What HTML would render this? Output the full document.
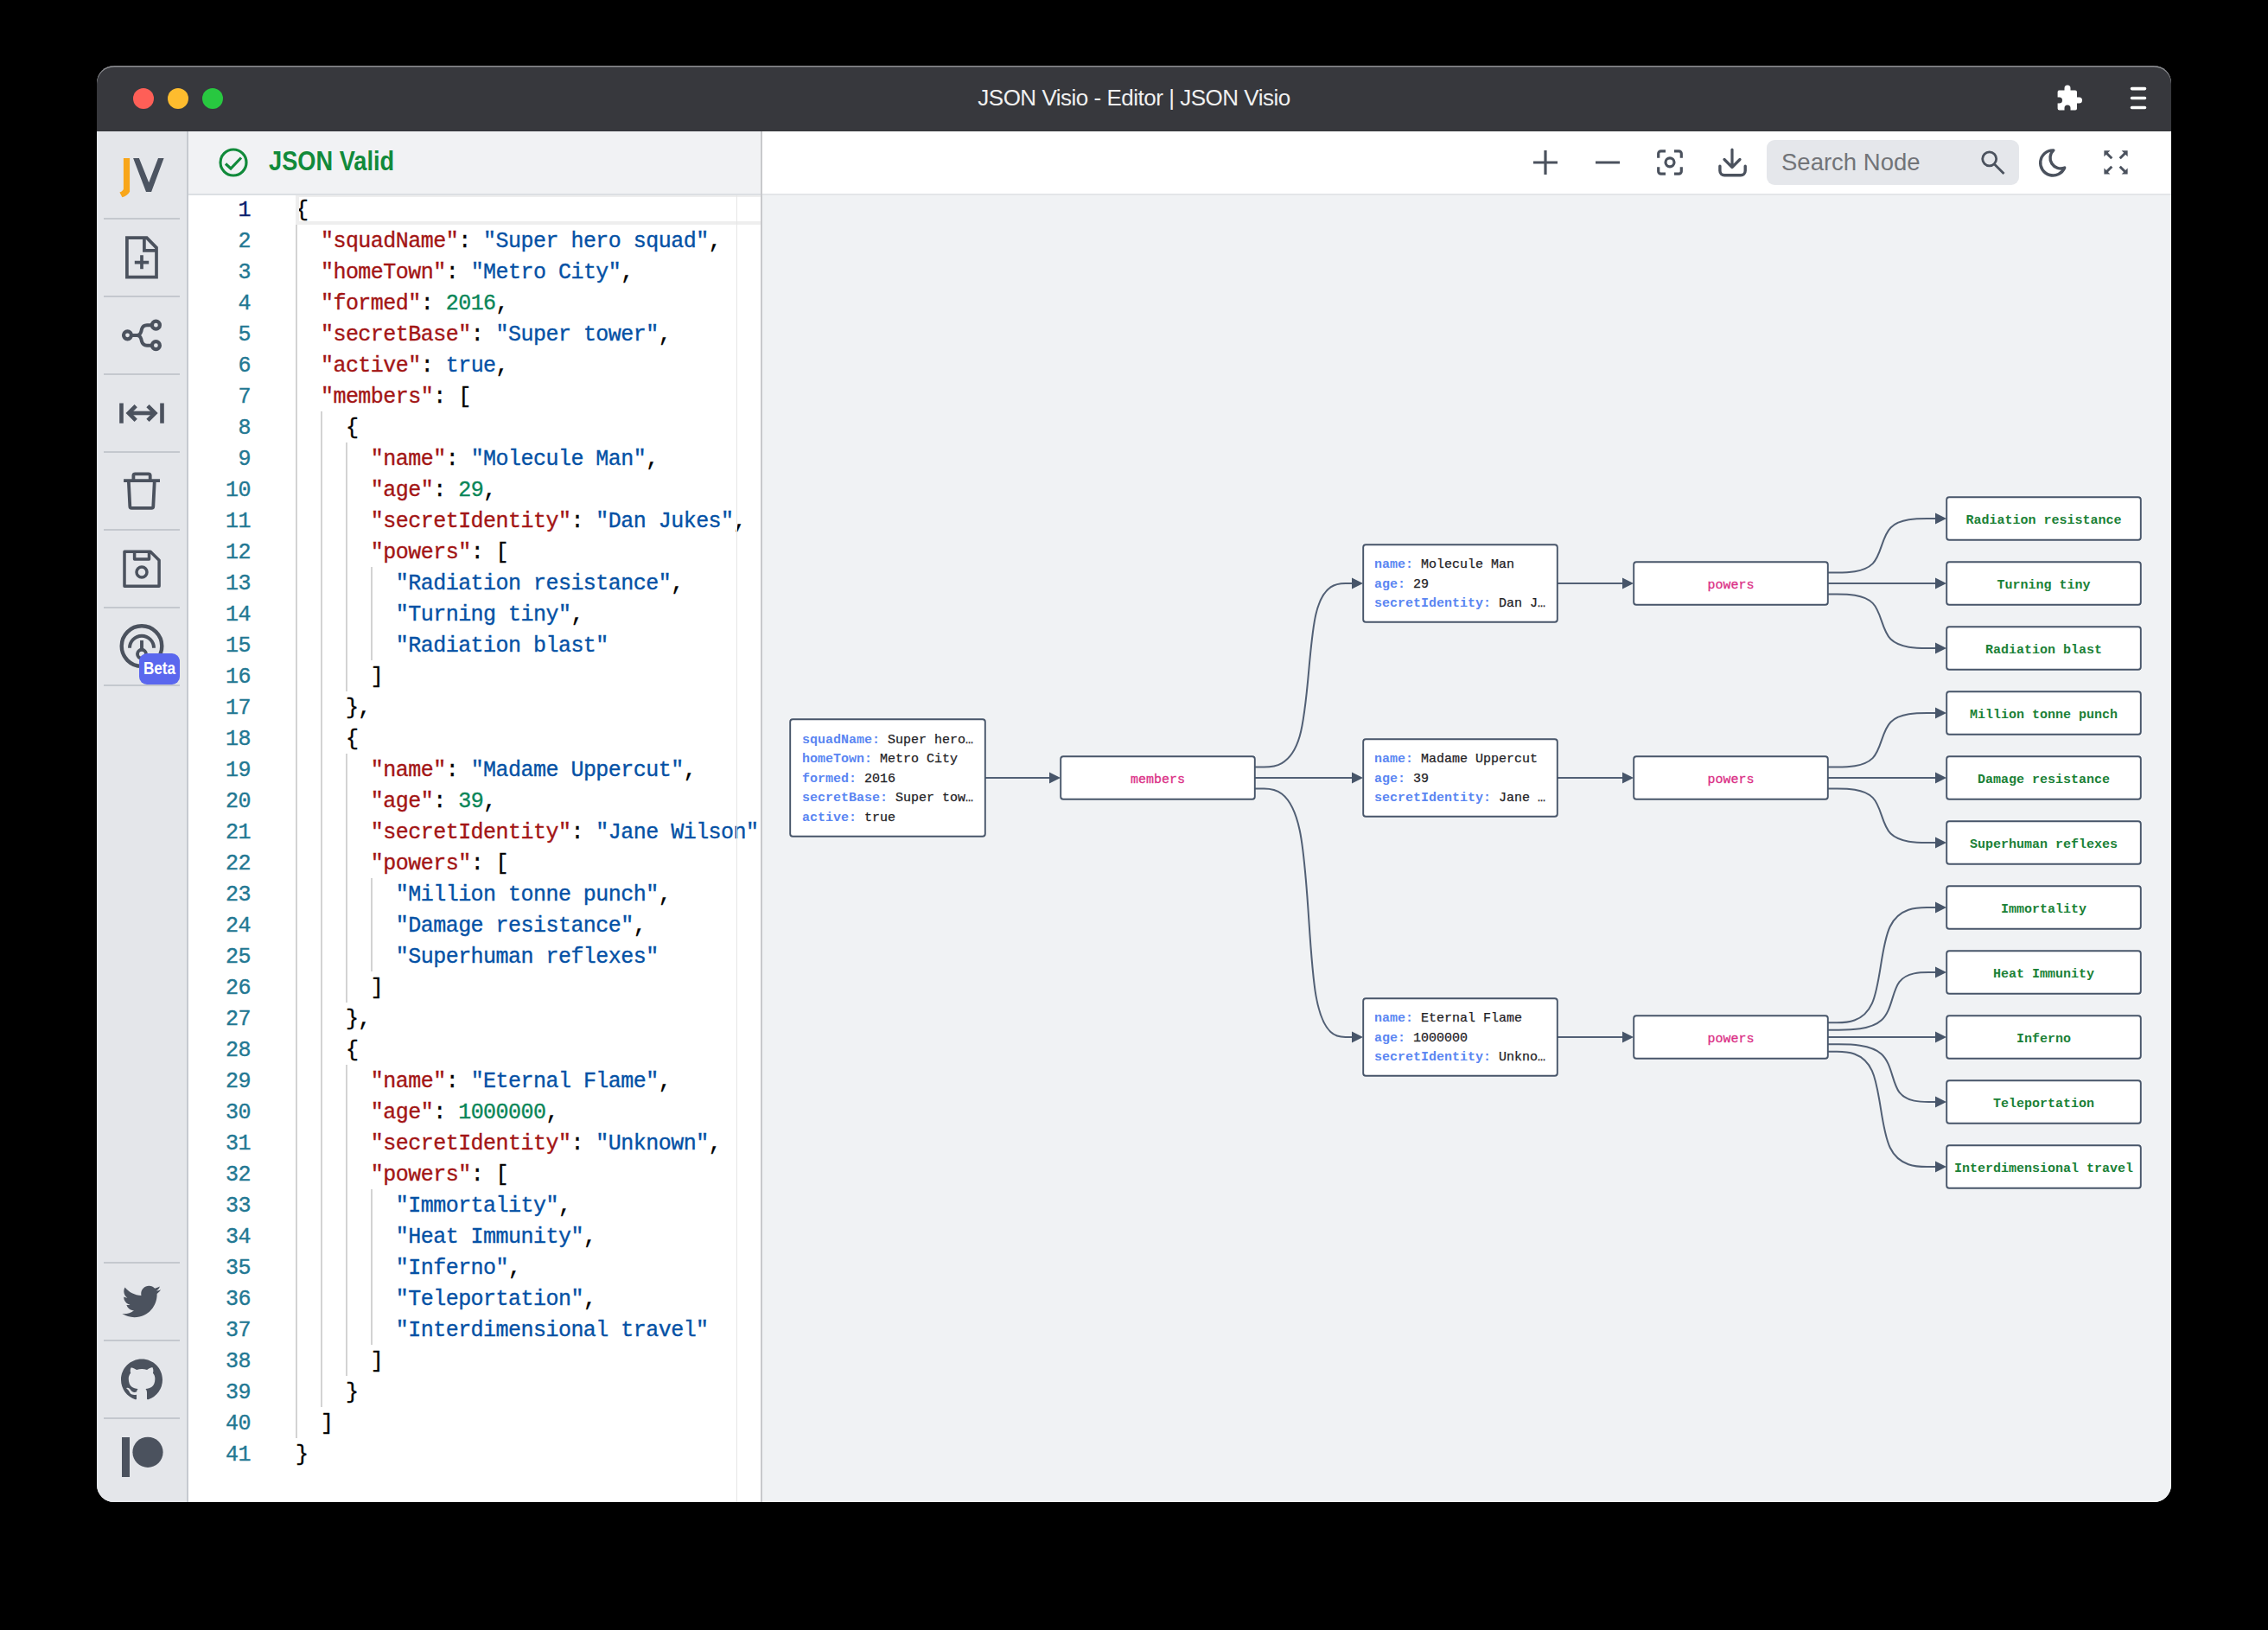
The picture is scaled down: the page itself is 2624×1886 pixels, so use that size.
<!DOCTYPE html>
<html><head><meta charset="utf-8">
<style>
html,body{margin:0;padding:0;background:#000;width:2624px;height:1886px;overflow:hidden;}
body{position:relative;font-family:"Liberation Sans",sans-serif;}
#win{position:absolute;left:112px;top:76px;width:2400px;height:1662px;border-radius:20px;overflow:hidden;background:#e4e6ea;}
#pg{position:absolute;left:-112px;top:-76px;width:2624px;height:1886px;}
.a{position:absolute;}
#title{left:112px;top:76px;width:2400px;height:76px;background:#37383d;}
#titleborder{left:112px;top:76px;width:2400px;height:2px;background:#5d5e62;}
.tl{position:absolute;width:24px;height:24px;border-radius:50%;top:102px;}
#ttext{left:112px;width:2400px;top:96px;text-align:center;color:#f0f0f0;font-size:26px;letter-spacing:-0.49px;line-height:34px;}
#side{left:112px;top:152px;width:104px;height:1586px;background:#e4e6ea;}
#sideb{left:216px;top:152px;width:2px;height:1586px;background:#c6cad0;}
.sep{position:absolute;left:120px;width:88px;height:2px;background:#c5c9cf;}
#hdr{left:218px;top:152px;width:662px;height:72px;background:#f1f2f4;}
#hdrb{left:218px;top:224px;width:662px;height:2px;background:#dcdfe3;}
#ed{left:218px;top:226px;width:662px;height:1512px;background:#fff;}
#divv{left:880px;top:152px;width:2px;height:1586px;background:#c8c9cc;}
#tb{left:882px;top:152px;width:1630px;height:72px;background:#fff;}
#tbb{left:882px;top:224px;width:1630px;height:2px;background:#e3e5e8;}
#canvas{left:882px;top:226px;width:1630px;height:1512px;background:#f0f2f4;}
.ln{position:absolute;left:218px;width:72px;text-align:right;font-family:"Liberation Mono",monospace;font-size:25px;letter-spacing:-0.53px;-webkit-text-stroke:0.35px currentColor;line-height:36px;color:#237893;}
.cl{position:absolute;left:342px;white-space:pre;font-family:"Liberation Mono",monospace;font-size:25px;letter-spacing:-0.53px;-webkit-text-stroke:0.35px currentColor;line-height:36px;color:#000;}
.k{color:#a31515}.s{color:#0451a5}.n{color:#098658}.b{color:#0451a5}
.ig{position:absolute;width:2px;background:#d3d3d3;}
.nt{position:absolute;white-space:pre;font-family:"Liberation Mono",monospace;font-size:15px;line-height:17px;color:#1f2226;-webkit-text-stroke:0.25px currentColor;}
.kb{font-weight:bold}
.nc{position:absolute;width:225px;text-align:center;white-space:pre;font-family:"Liberation Mono",monospace;font-size:15px;line-height:17px;-webkit-text-stroke:0.3px currentColor;}
.kb{-webkit-text-stroke:0}
.lf{-webkit-text-stroke:0}
.lf{font-weight:bold}
</style></head><body>
<div id="win"><div id="pg">
<div class="a" id="title"></div>

<div class="tl" style="left:154px;background:#fe5f57"></div>
<div class="tl" style="left:194px;background:#febc2e"></div>
<div class="tl" style="left:234px;background:#28c840"></div>
<div class="a" id="ttext">JSON Visio - Editor | JSON Visio</div>

<div class="a" id="side"></div>
<div class="a" id="sideb"></div>

<div class="a" id="hdr"></div>
<div class="a" id="hdrb"></div>
<div class="a" id="ed"></div>
<div class="a" id="divv"></div>
<div class="a" id="tb"></div>
<div class="a" id="tbb"></div>
<div class="a" id="canvas"></div>

<!--EDITOR-->
<div class="a" style="left:0;top:0;width:2624px;height:1886px;clip-path:inset(224px 1744px 148px 218px)">
<div class="ln" style="top:226px;color:#0b216f">1</div>
<div class="cl" style="top:226px">{</div>
<div class="ln" style="top:262px;color:#237893">2</div>
<div class="cl" style="top:262px">  <span class="k">&quot;squadName&quot;</span>: <span class="s">&quot;Super hero squad&quot;</span>,</div>
<div class="ln" style="top:298px;color:#237893">3</div>
<div class="cl" style="top:298px">  <span class="k">&quot;homeTown&quot;</span>: <span class="s">&quot;Metro City&quot;</span>,</div>
<div class="ln" style="top:334px;color:#237893">4</div>
<div class="cl" style="top:334px">  <span class="k">&quot;formed&quot;</span>: <span class="n">2016</span>,</div>
<div class="ln" style="top:370px;color:#237893">5</div>
<div class="cl" style="top:370px">  <span class="k">&quot;secretBase&quot;</span>: <span class="s">&quot;Super tower&quot;</span>,</div>
<div class="ln" style="top:406px;color:#237893">6</div>
<div class="cl" style="top:406px">  <span class="k">&quot;active&quot;</span>: <span class="b">true</span>,</div>
<div class="ln" style="top:442px;color:#237893">7</div>
<div class="cl" style="top:442px">  <span class="k">&quot;members&quot;</span>: [</div>
<div class="ln" style="top:478px;color:#237893">8</div>
<div class="cl" style="top:478px">    {</div>
<div class="ln" style="top:514px;color:#237893">9</div>
<div class="cl" style="top:514px">      <span class="k">&quot;name&quot;</span>: <span class="s">&quot;Molecule Man&quot;</span>,</div>
<div class="ln" style="top:550px;color:#237893">10</div>
<div class="cl" style="top:550px">      <span class="k">&quot;age&quot;</span>: <span class="n">29</span>,</div>
<div class="ln" style="top:586px;color:#237893">11</div>
<div class="cl" style="top:586px">      <span class="k">&quot;secretIdentity&quot;</span>: <span class="s">&quot;Dan Jukes&quot;</span>,</div>
<div class="ln" style="top:622px;color:#237893">12</div>
<div class="cl" style="top:622px">      <span class="k">&quot;powers&quot;</span>: [</div>
<div class="ln" style="top:658px;color:#237893">13</div>
<div class="cl" style="top:658px">        <span class="s">&quot;Radiation resistance&quot;</span>,</div>
<div class="ln" style="top:694px;color:#237893">14</div>
<div class="cl" style="top:694px">        <span class="s">&quot;Turning tiny&quot;</span>,</div>
<div class="ln" style="top:730px;color:#237893">15</div>
<div class="cl" style="top:730px">        <span class="s">&quot;Radiation blast&quot;</span></div>
<div class="ln" style="top:766px;color:#237893">16</div>
<div class="cl" style="top:766px">      ]</div>
<div class="ln" style="top:802px;color:#237893">17</div>
<div class="cl" style="top:802px">    },</div>
<div class="ln" style="top:838px;color:#237893">18</div>
<div class="cl" style="top:838px">    {</div>
<div class="ln" style="top:874px;color:#237893">19</div>
<div class="cl" style="top:874px">      <span class="k">&quot;name&quot;</span>: <span class="s">&quot;Madame Uppercut&quot;</span>,</div>
<div class="ln" style="top:910px;color:#237893">20</div>
<div class="cl" style="top:910px">      <span class="k">&quot;age&quot;</span>: <span class="n">39</span>,</div>
<div class="ln" style="top:946px;color:#237893">21</div>
<div class="cl" style="top:946px">      <span class="k">&quot;secretIdentity&quot;</span>: <span class="s">&quot;Jane Wilson&quot;</span>,</div>
<div class="ln" style="top:982px;color:#237893">22</div>
<div class="cl" style="top:982px">      <span class="k">&quot;powers&quot;</span>: [</div>
<div class="ln" style="top:1018px;color:#237893">23</div>
<div class="cl" style="top:1018px">        <span class="s">&quot;Million tonne punch&quot;</span>,</div>
<div class="ln" style="top:1054px;color:#237893">24</div>
<div class="cl" style="top:1054px">        <span class="s">&quot;Damage resistance&quot;</span>,</div>
<div class="ln" style="top:1090px;color:#237893">25</div>
<div class="cl" style="top:1090px">        <span class="s">&quot;Superhuman reflexes&quot;</span></div>
<div class="ln" style="top:1126px;color:#237893">26</div>
<div class="cl" style="top:1126px">      ]</div>
<div class="ln" style="top:1162px;color:#237893">27</div>
<div class="cl" style="top:1162px">    },</div>
<div class="ln" style="top:1198px;color:#237893">28</div>
<div class="cl" style="top:1198px">    {</div>
<div class="ln" style="top:1234px;color:#237893">29</div>
<div class="cl" style="top:1234px">      <span class="k">&quot;name&quot;</span>: <span class="s">&quot;Eternal Flame&quot;</span>,</div>
<div class="ln" style="top:1270px;color:#237893">30</div>
<div class="cl" style="top:1270px">      <span class="k">&quot;age&quot;</span>: <span class="n">1000000</span>,</div>
<div class="ln" style="top:1306px;color:#237893">31</div>
<div class="cl" style="top:1306px">      <span class="k">&quot;secretIdentity&quot;</span>: <span class="s">&quot;Unknown&quot;</span>,</div>
<div class="ln" style="top:1342px;color:#237893">32</div>
<div class="cl" style="top:1342px">      <span class="k">&quot;powers&quot;</span>: [</div>
<div class="ln" style="top:1378px;color:#237893">33</div>
<div class="cl" style="top:1378px">        <span class="s">&quot;Immortality&quot;</span>,</div>
<div class="ln" style="top:1414px;color:#237893">34</div>
<div class="cl" style="top:1414px">        <span class="s">&quot;Heat Immunity&quot;</span>,</div>
<div class="ln" style="top:1450px;color:#237893">35</div>
<div class="cl" style="top:1450px">        <span class="s">&quot;Inferno&quot;</span>,</div>
<div class="ln" style="top:1486px;color:#237893">36</div>
<div class="cl" style="top:1486px">        <span class="s">&quot;Teleportation&quot;</span>,</div>
<div class="ln" style="top:1522px;color:#237893">37</div>
<div class="cl" style="top:1522px">        <span class="s">&quot;Interdimensional travel&quot;</span></div>
<div class="ln" style="top:1558px;color:#237893">38</div>
<div class="cl" style="top:1558px">      ]</div>
<div class="ln" style="top:1594px;color:#237893">39</div>
<div class="cl" style="top:1594px">    }</div>
<div class="ln" style="top:1630px;color:#237893">40</div>
<div class="cl" style="top:1630px">  ]</div>
<div class="ln" style="top:1666px;color:#237893">41</div>
<div class="cl" style="top:1666px">}</div>
<div class="ig" style="left:342.0px;top:260px;height:1404px"></div>
<div class="ig" style="left:370.9px;top:476px;height:1152px"></div>
<div class="ig" style="left:399.8px;top:512px;height:288px"></div>
<div class="ig" style="left:399.8px;top:872px;height:288px"></div>
<div class="ig" style="left:399.8px;top:1232px;height:360px"></div>
<div class="ig" style="left:428.8px;top:656px;height:108px"></div>
<div class="ig" style="left:428.8px;top:1016px;height:108px"></div>
<div class="ig" style="left:428.8px;top:1376px;height:180px"></div>
<div class="a" style="left:342px;top:226px;width:538px;height:28px;border:4px solid #eeeeee;border-top-width:2px;border-right:none;"></div>
<div class="a" style="left:852px;top:226px;width:1px;height:1512px;background:#e6e6e6"></div>
</div>
<!--/EDITOR-->
<!--GRAPH-->
<svg class="a" style="left:0;top:0" width="2624" height="1886" viewBox="0 0 2624 1886">
<defs><marker id="ar" viewBox="0 0 10 10" refX="10" refY="5" markerWidth="13" markerHeight="13" markerUnits="userSpaceOnUse" orient="auto"><path d="M0,0L10,5L0,10z" fill="#475569"/></marker></defs>
<path d="M1140,900L1215,900" fill="none" stroke="#526075" stroke-width="2"/>
<path d="M1214,893.5L1227,900L1214,906.5z" fill="#475569"/>
<path d="M1452.00,887.50L1462.33,887.50C1472.67,887.50 1493.33,887.50 1503.67,852.08C1514.00,816.67 1514.00,745.83 1522.50,710.42C1531.00,675.00 1548.00,675.00 1556.50,675.00L1565.00,675.00" fill="none" stroke="#526075" stroke-width="2"/>
<path d="M1564,668.5L1577,675L1564,681.5z" fill="#475569"/>
<path d="M1452,900L1565,900" fill="none" stroke="#526075" stroke-width="2"/>
<path d="M1564,893.5L1577,900L1564,906.5z" fill="#475569"/>
<path d="M1452.00,912.50L1462.33,912.50C1472.67,912.50 1493.33,912.50 1503.67,960.42C1514.00,1008.33 1514.00,1104.17 1522.50,1152.08C1531.00,1200.00 1548.00,1200.00 1556.50,1200.00L1565.00,1200.00" fill="none" stroke="#526075" stroke-width="2"/>
<path d="M1564,1193.5L1577,1200L1564,1206.5z" fill="#475569"/>
<path d="M1802,675L1878,675" fill="none" stroke="#526075" stroke-width="2"/>
<path d="M1877,668.5L1890,675L1877,681.5z" fill="#475569"/>
<path d="M1802,900L1878,900" fill="none" stroke="#526075" stroke-width="2"/>
<path d="M1877,893.5L1890,900L1877,906.5z" fill="#475569"/>
<path d="M1802,1200L1878,1200" fill="none" stroke="#526075" stroke-width="2"/>
<path d="M1877,1193.5L1890,1200L1877,1206.5z" fill="#475569"/>
<path d="M2115.00,662.50L2125.33,662.50C2135.67,662.50 2156.33,662.50 2166.67,652.08C2177.00,641.67 2177.00,620.83 2187.50,610.42C2198.00,600.00 2219.00,600.00 2229.50,600.00L2240.00,600.00" fill="none" stroke="#526075" stroke-width="2"/>
<path d="M2239,593.5L2252,600L2239,606.5z" fill="#475569"/>
<path d="M2115,675L2240,675" fill="none" stroke="#526075" stroke-width="2"/>
<path d="M2239,668.5L2252,675L2239,681.5z" fill="#475569"/>
<path d="M2115.00,687.50L2125.33,687.50C2135.67,687.50 2156.33,687.50 2166.67,697.92C2177.00,708.33 2177.00,729.17 2187.50,739.58C2198.00,750.00 2219.00,750.00 2229.50,750.00L2240.00,750.00" fill="none" stroke="#526075" stroke-width="2"/>
<path d="M2239,743.5L2252,750L2239,756.5z" fill="#475569"/>
<path d="M2115.00,887.50L2125.33,887.50C2135.67,887.50 2156.33,887.50 2166.67,877.08C2177.00,866.67 2177.00,845.83 2187.50,835.42C2198.00,825.00 2219.00,825.00 2229.50,825.00L2240.00,825.00" fill="none" stroke="#526075" stroke-width="2"/>
<path d="M2239,818.5L2252,825L2239,831.5z" fill="#475569"/>
<path d="M2115,900L2240,900" fill="none" stroke="#526075" stroke-width="2"/>
<path d="M2239,893.5L2252,900L2239,906.5z" fill="#475569"/>
<path d="M2115.00,912.50L2125.33,912.50C2135.67,912.50 2156.33,912.50 2166.67,922.92C2177.00,933.33 2177.00,954.17 2187.50,964.58C2198.00,975.00 2219.00,975.00 2229.50,975.00L2240.00,975.00" fill="none" stroke="#526075" stroke-width="2"/>
<path d="M2239,968.5L2252,975L2239,981.5z" fill="#475569"/>
<path d="M2115.00,1183.33L2125.17,1183.33C2135.33,1183.33 2155.67,1183.33 2165.83,1161.11C2176.00,1138.89 2176.00,1094.44 2186.67,1072.22C2197.33,1050.00 2218.67,1050.00 2229.33,1050.00L2240.00,1050.00" fill="none" stroke="#526075" stroke-width="2"/>
<path d="M2239,1043.5L2252,1050L2239,1056.5z" fill="#475569"/>
<path d="M2115.00,1191.67L2127.33,1191.67C2139.67,1191.67 2164.33,1191.67 2176.67,1180.56C2189.00,1169.44 2189.00,1147.22 2197.50,1136.11C2206.00,1125.00 2223.00,1125.00 2231.50,1125.00L2240.00,1125.00" fill="none" stroke="#526075" stroke-width="2"/>
<path d="M2239,1118.5L2252,1125L2239,1131.5z" fill="#475569"/>
<path d="M2115,1200.0L2240,1200" fill="none" stroke="#526075" stroke-width="2"/>
<path d="M2239,1193.5L2252,1200L2239,1206.5z" fill="#475569"/>
<path d="M2115.00,1208.33L2127.33,1208.33C2139.67,1208.33 2164.33,1208.33 2176.67,1219.44C2189.00,1230.56 2189.00,1252.78 2197.50,1263.89C2206.00,1275.00 2223.00,1275.00 2231.50,1275.00L2240.00,1275.00" fill="none" stroke="#526075" stroke-width="2"/>
<path d="M2239,1268.5L2252,1275L2239,1281.5z" fill="#475569"/>
<path d="M2115.00,1216.67L2125.17,1216.67C2135.33,1216.67 2155.67,1216.67 2165.83,1238.89C2176.00,1261.11 2176.00,1305.56 2186.67,1327.78C2197.33,1350.00 2218.67,1350.00 2229.33,1350.00L2240.00,1350.00" fill="none" stroke="#526075" stroke-width="2"/>
<path d="M2239,1343.5L2252,1350L2239,1356.5z" fill="#475569"/>
<rect x="914.2" y="832.2" width="225.6" height="135.6" rx="3" fill="#fff" stroke="#475569" stroke-width="1.9"/>
<rect x="1227.2" y="875.2" width="224.6" height="49.6" rx="3" fill="#fff" stroke="#475569" stroke-width="1.9"/>
<rect x="1577.2" y="630.2" width="224.6" height="89.6" rx="3" fill="#fff" stroke="#475569" stroke-width="1.9"/>
<rect x="1890.2" y="650.2" width="224.6" height="49.6" rx="3" fill="#fff" stroke="#475569" stroke-width="1.9"/>
<rect x="1577.2" y="855.2" width="224.6" height="89.6" rx="3" fill="#fff" stroke="#475569" stroke-width="1.9"/>
<rect x="1890.2" y="875.2" width="224.6" height="49.6" rx="3" fill="#fff" stroke="#475569" stroke-width="1.9"/>
<rect x="1577.2" y="1155.2" width="224.6" height="89.6" rx="3" fill="#fff" stroke="#475569" stroke-width="1.9"/>
<rect x="1890.2" y="1175.2" width="224.6" height="49.6" rx="3" fill="#fff" stroke="#475569" stroke-width="1.9"/>
<rect x="2252.2" y="575.2" width="224.6" height="49.6" rx="3" fill="#fff" stroke="#475569" stroke-width="1.9"/>
<rect x="2252.2" y="650.2" width="224.6" height="49.6" rx="3" fill="#fff" stroke="#475569" stroke-width="1.9"/>
<rect x="2252.2" y="725.2" width="224.6" height="49.6" rx="3" fill="#fff" stroke="#475569" stroke-width="1.9"/>
<rect x="2252.2" y="800.2" width="224.6" height="49.6" rx="3" fill="#fff" stroke="#475569" stroke-width="1.9"/>
<rect x="2252.2" y="875.2" width="224.6" height="49.6" rx="3" fill="#fff" stroke="#475569" stroke-width="1.9"/>
<rect x="2252.2" y="950.2" width="224.6" height="49.6" rx="3" fill="#fff" stroke="#475569" stroke-width="1.9"/>
<rect x="2252.2" y="1025.2" width="224.6" height="49.6" rx="3" fill="#fff" stroke="#475569" stroke-width="1.9"/>
<rect x="2252.2" y="1100.2" width="224.6" height="49.6" rx="3" fill="#fff" stroke="#475569" stroke-width="1.9"/>
<rect x="2252.2" y="1175.2" width="224.6" height="49.6" rx="3" fill="#fff" stroke="#475569" stroke-width="1.9"/>
<rect x="2252.2" y="1250.2" width="224.6" height="49.6" rx="3" fill="#fff" stroke="#475569" stroke-width="1.9"/>
<rect x="2252.2" y="1325.2" width="224.6" height="49.6" rx="3" fill="#fff" stroke="#475569" stroke-width="1.9"/>
</svg>
<div class="nt" style="left:928px;top:847.9px"><span style="color:#5a86f2" class="kb">squadName:</span> Super hero…</div>
<div class="nt" style="left:928px;top:870.3px"><span style="color:#5a86f2" class="kb">homeTown:</span> Metro City</div>
<div class="nt" style="left:928px;top:892.7px"><span style="color:#5a86f2" class="kb">formed:</span> 2016</div>
<div class="nt" style="left:928px;top:915.1px"><span style="color:#5a86f2" class="kb">secretBase:</span> Super tow…</div>
<div class="nt" style="left:928px;top:937.5px"><span style="color:#5a86f2" class="kb">active:</span> true</div>
<div class="nt" style="left:1590px;top:645.3px"><span style="color:#5a86f2" class="kb">name:</span> Molecule Man</div>
<div class="nt" style="left:1590px;top:667.7px"><span style="color:#5a86f2" class="kb">age:</span> 29</div>
<div class="nt" style="left:1590px;top:690.1px"><span style="color:#5a86f2" class="kb">secretIdentity:</span> Dan J…</div>
<div class="nt" style="left:1590px;top:870.3px"><span style="color:#5a86f2" class="kb">name:</span> Madame Uppercut</div>
<div class="nt" style="left:1590px;top:892.7px"><span style="color:#5a86f2" class="kb">age:</span> 39</div>
<div class="nt" style="left:1590px;top:915.1px"><span style="color:#5a86f2" class="kb">secretIdentity:</span> Jane …</div>
<div class="nt" style="left:1590px;top:1170.3px"><span style="color:#5a86f2" class="kb">name:</span> Eternal Flame</div>
<div class="nt" style="left:1590px;top:1192.7px"><span style="color:#5a86f2" class="kb">age:</span> 1000000</div>
<div class="nt" style="left:1590px;top:1215.1px"><span style="color:#5a86f2" class="kb">secretIdentity:</span> Unkno…</div>
<div class="nc" style="left:1227.0px;top:893.8px;color:#db2f86">members</div>
<div class="nc" style="left:1890.0px;top:668.8px;color:#db2f86">powers</div>
<div class="nc" style="left:1890.0px;top:893.8px;color:#db2f86">powers</div>
<div class="nc" style="left:1890.0px;top:1193.8px;color:#db2f86">powers</div>
<div class="nc lf" style="left:2252.0px;top:593.8px;color:#1a8136">Radiation resistance</div>
<div class="nc lf" style="left:2252.0px;top:668.8px;color:#1a8136">Turning tiny</div>
<div class="nc lf" style="left:2252.0px;top:743.8px;color:#1a8136">Radiation blast</div>
<div class="nc lf" style="left:2252.0px;top:818.8px;color:#1a8136">Million tonne punch</div>
<div class="nc lf" style="left:2252.0px;top:893.8px;color:#1a8136">Damage resistance</div>
<div class="nc lf" style="left:2252.0px;top:968.8px;color:#1a8136">Superhuman reflexes</div>
<div class="nc lf" style="left:2252.0px;top:1043.8px;color:#1a8136">Immortality</div>
<div class="nc lf" style="left:2252.0px;top:1118.8px;color:#1a8136">Heat Immunity</div>
<div class="nc lf" style="left:2252.0px;top:1193.8px;color:#1a8136">Inferno</div>
<div class="nc lf" style="left:2252.0px;top:1268.8px;color:#1a8136">Teleportation</div>
<div class="nc lf" style="left:2252.0px;top:1343.8px;color:#1a8136">Interdimensional travel</div>
<!--/GRAPH-->
<!--ICONS-->
<svg class="a" style="left:0;top:0" width="2624" height="1886" viewBox="0 0 2624 1886">
<g fill="#fff"><path d="M2383,104.5H2388.5V102A3.5,3.5 0 0 1 2395.5,102V104.5H2401A2,2 0 0 1 2403,106.5V112.5H2405.5A3.5,3.5 0 0 1 2405.5,119.5H2403V125.5A2,2 0 0 1 2401,127.5H2395.5V125A3.5,3.5 0 0 0 2388.5,125V127.5H2382.6A2,2 0 0 1 2380.6,125.5V119.5H2382.5A3.5,3.5 0 0 0 2382.5,112.5H2380.6V106.5A2,2 0 0 1 2383,104.5Z"/></g>
<g stroke="#fff" stroke-width="3.6" stroke-linecap="round"><path d="M2466.5,102.6H2481.5M2466.5,113.5H2481.5M2466.5,124.5H2481.5"/></g>
<rect x="120" y="252" width="88" height="2" fill="#c4c8ce"/>
<rect x="120" y="342" width="88" height="2" fill="#c4c8ce"/>
<rect x="120" y="432" width="88" height="2" fill="#c4c8ce"/>
<rect x="120" y="522" width="88" height="2" fill="#c4c8ce"/>
<rect x="120" y="612" width="88" height="2" fill="#c4c8ce"/>
<rect x="120" y="702" width="88" height="2" fill="#c4c8ce"/>
<rect x="120" y="792" width="88" height="2" fill="#c4c8ce"/>
<rect x="120" y="1460" width="88" height="2" fill="#c4c8ce"/>
<rect x="120" y="1550" width="88" height="2" fill="#c4c8ce"/>
<rect x="120" y="1640" width="88" height="2" fill="#c4c8ce"/>
<path d="M142.9,183H150.1V221.7Q147.5,226.5 141.4,228.2L138.4,222.6Q142.9,220.5 142.9,218.4Z" fill="#f8a61a"/>
<path d="M154.1,183H160.9L172.2,211.3L183,183H189.6L175.1,222H169Z" fill="#4c5461"/>
<g fill="none" stroke="#4b525e" stroke-width="3.7" stroke-linejoin="miter"><path d="M146.9,275.2H169.8L181,286.6V320.6H146.9Z"/><path d="M166.9,275.3V289.8H181.1"/><path d="M155.8,303.6H172.2M164,295.3V311.3" stroke-linecap="butt"/></g>
<g fill="none" stroke="#4b525e" stroke-width="4"><circle cx="147.5" cy="387.8" r="4.5" stroke-width="4.2"/><circle cx="180.4" cy="376.2" r="4.5" stroke-width="4.2"/><circle cx="180.4" cy="399.7" r="4.5" stroke-width="4.2"/><path d="M152.1,387.9H158.5C161.5,387.9 162.6,386.2 163.4,383.2L164,380.8C164.8,377.8 166.4,376.2 170,376.2H175.8M158.5,387.9C161.5,387.9 162.6,389.6 163.4,392.6L164,395.1C164.8,398.1 166.4,399.7 170,399.7H175.8" stroke-linejoin="round"/></g>
<g fill="none" stroke="#4b525e" stroke-width="4.6"><path d="M140.5,466.5V489.7M187.5,466.5V489.7"/><path d="M150,478H178"/><path d="M157.2,469.6L148.8,478L157.2,486.4M171,469.6L179.4,478L171,486.4"/></g>
<g fill="none" stroke="#4b525e" stroke-width="3.8" stroke-linejoin="round"><path d="M143.1,556.1H185"/><path d="M154.4,555.8V550A2,2 0 0 1 156.4,548.3H171.7A2,2 0 0 1 173.7,550V555.8"/><path d="M148.8,556L150.3,585.8A2,2 0 0 0 152.3,587.8H175.3A2,2 0 0 0 177.3,585.8L178.8,556"/></g>
<g fill="none" stroke="#4b525e" stroke-width="3.5" stroke-linejoin="round"><path d="M144,638.2H174L184.1,648.3V678.2H144Z"/><path d="M155.6,638.2V647H172.5V638.2"/><circle cx="164" cy="662" r="6"/></g>
<g fill="none" stroke="#4b525e" stroke-width="3.9"><circle cx="164" cy="747.6" r="23.3" stroke-width="4.4"/><path d="M150,749.7A14,14 0 0 1 178,749.7"/><path d="M164,741V752"/><circle cx="164" cy="756.8" r="5"/></g>
<rect x="161" y="756" width="47" height="36" rx="9" fill="#5a67ee"/>
<path transform="translate(141.4,1483.6) scale(0.0875)" fill="#4b525e" d="M459.37 151.716c.325 4.548.325 9.097.325 13.645 0 138.72-105.583 298.558-298.558 298.558-59.452 0-114.68-17.219-161.137-47.106 8.447.974 16.568 1.299 25.34 1.299 49.055 0 94.213-16.568 130.274-44.832-46.132-.975-84.792-31.188-98.112-72.772 6.498.974 12.995 1.624 19.818 1.624 9.421 0 18.843-1.3 27.614-3.573-48.081-9.747-84.143-51.98-84.143-102.985v-1.299c13.969 7.797 30.214 12.67 47.431 13.319-28.264-18.843-46.781-51.005-46.781-87.391 0-19.492 5.197-37.36 14.294-52.954 51.655 63.675 129.3 105.258 216.365 109.807-1.624-7.797-2.599-15.918-2.599-24.04 0-57.828 46.782-104.934 104.934-104.934 30.213 0 57.502 12.67 76.67 33.137 23.715-4.548 46.456-13.32 66.599-25.34-7.798 24.366-24.366 44.833-46.132 57.827 21.117-2.273 41.584-8.122 60.426-16.243-14.292 20.791-32.161 39.308-52.628 54.253z"/>
<path transform="translate(140,1572.5) scale(3)" fill="#4b525e" d="M8 0C3.58 0 0 3.58 0 8c0 3.54 2.29 6.53 5.47 7.59.4.07.55-.17.55-.38 0-.19-.01-.82-.01-1.49-2.01.37-2.53-.49-2.69-.94-.09-.23-.48-.94-.82-1.130-.28-.15-.68-.52-.01-.53.63-.01 1.08.58 1.23.82.72 1.21 1.87.87 2.33.66.07-.52.28-.87.51-1.07-1.78-.2-3.64-.89-3.64-3.95 0-.87.31-1.59.82-2.15-.08-.2-.36-1.020.08-2.12 0 0 .67-.21 2.2.82.64-.18 1.32-.27 2-.27.68 0 1.36.09 2 .27 1.53-1.04 2.2-.82 2.2-.82.44 1.1.16 1.92.08 2.12.51.56.82 1.27.82 2.15 0 3.07-1.87 3.750-3.65 3.95.29.25.54.73.54 1.48 0 1.07-.01 1.93-.01 2.2 0 .21.15.46.55.38A8.013 8.013 0 0016 8c0-4.42-3.58-8-8-8z"/>
<rect x="141" y="1663" width="9" height="46" fill="#4b525e"/><circle cx="171" cy="1680.3" r="17.6" fill="#4b525e"/>
<g fill="none" stroke="#118a3a" stroke-width="3.2" stroke-linecap="butt"><circle cx="270" cy="188" r="15"/><path d="M261,189.5L267,195L279,182.5"/></g>
<g fill="none" stroke="#4b525e" stroke-width="3.2"><path d="M1788,174V202M1774,188H1802"/><path d="M1846,188H1874"/><path d="M1918.7,182.7V177.8A3,3 0 0 1 1921.7,174.8H1927M1937,174.8H1942.3A3,3 0 0 1 1945.3,177.8V182.7M1945.3,193.2V198.2A3,3 0 0 1 1942.3,201.2H1937M1927,201.2H1921.7A3,3 0 0 1 1918.7,198.2V193.2"/><circle cx="1932" cy="187.8" r="5"/><path d="M2004,173V193.5M1995,184.5L2004,193.5L2013,184.5" stroke-linecap="round" stroke-linejoin="round"/><path d="M1989.9,192.2V197.6A5.2,5.2 0 0 0 1995.1,202.8H2014A5.2,5.2 0 0 0 2019.2,197.6V192.2" stroke-width="3.4" stroke-linecap="round"/></g>
<rect x="2044" y="162" width="292" height="52" rx="9" fill="#e5e7eb"/>
<g fill="none" stroke="#4b525e" stroke-width="2.8"><circle cx="2301.7" cy="183.8" r="8"/><path d="M2307.5,190L2318.5,201"/></g>
<path transform="translate(2355.8,169) scale(1.62)" fill="none" stroke="#4b525e" stroke-width="2.1" stroke-linejoin="round" d="M12 3c.132 0 .263 0 .393 0a7.5 7.5 0 0 0 7.92 12.446a9 9 0 1 1 -8.313 -12.454z"/>
<g fill="#4b525e"><path d="M2434.4,174.3H2441.4L2434.4,181.3Z"/><path d="M2461.6,174.3H2454.6L2461.6,181.3Z"/><path d="M2434.4,201.6H2441.4L2434.4,194.6Z"/><path d="M2461.6,201.6H2454.6L2461.6,194.6Z"/></g>
<g stroke="#4b525e" stroke-width="3"><path d="M2437,177L2443.3,183.3M2459,177L2452.7,183.3M2437,199L2443.3,192.7M2459,199L2452.7,192.7"/></g>
</svg>
<div class="a" style="left:161px;top:758px;width:47px;text-align:center;color:#fff;font-weight:bold;font-size:19.5px;line-height:30px;transform:scaleX(0.88)">Beta</div>
<div class="a" id="jv" style="left:310.7px;top:166px;color:#118a3a;font-weight:bold;font-size:32px;line-height:40px;transform-origin:0 0;transform:scaleX(0.85);white-space:nowrap">JSON Valid</div>
<div class="a" style="left:2061px;top:170px;color:#727478;font-size:27.5px;line-height:36px;white-space:nowrap">Search Node</div>
<!--/ICONS-->
</div><div style="position:absolute;left:0;top:0;width:2400px;height:60px;border-radius:20px 20px 0 0;box-shadow:inset 0 1.5px 0 #8d8e92;pointer-events:none"></div></div>
</body></html>
